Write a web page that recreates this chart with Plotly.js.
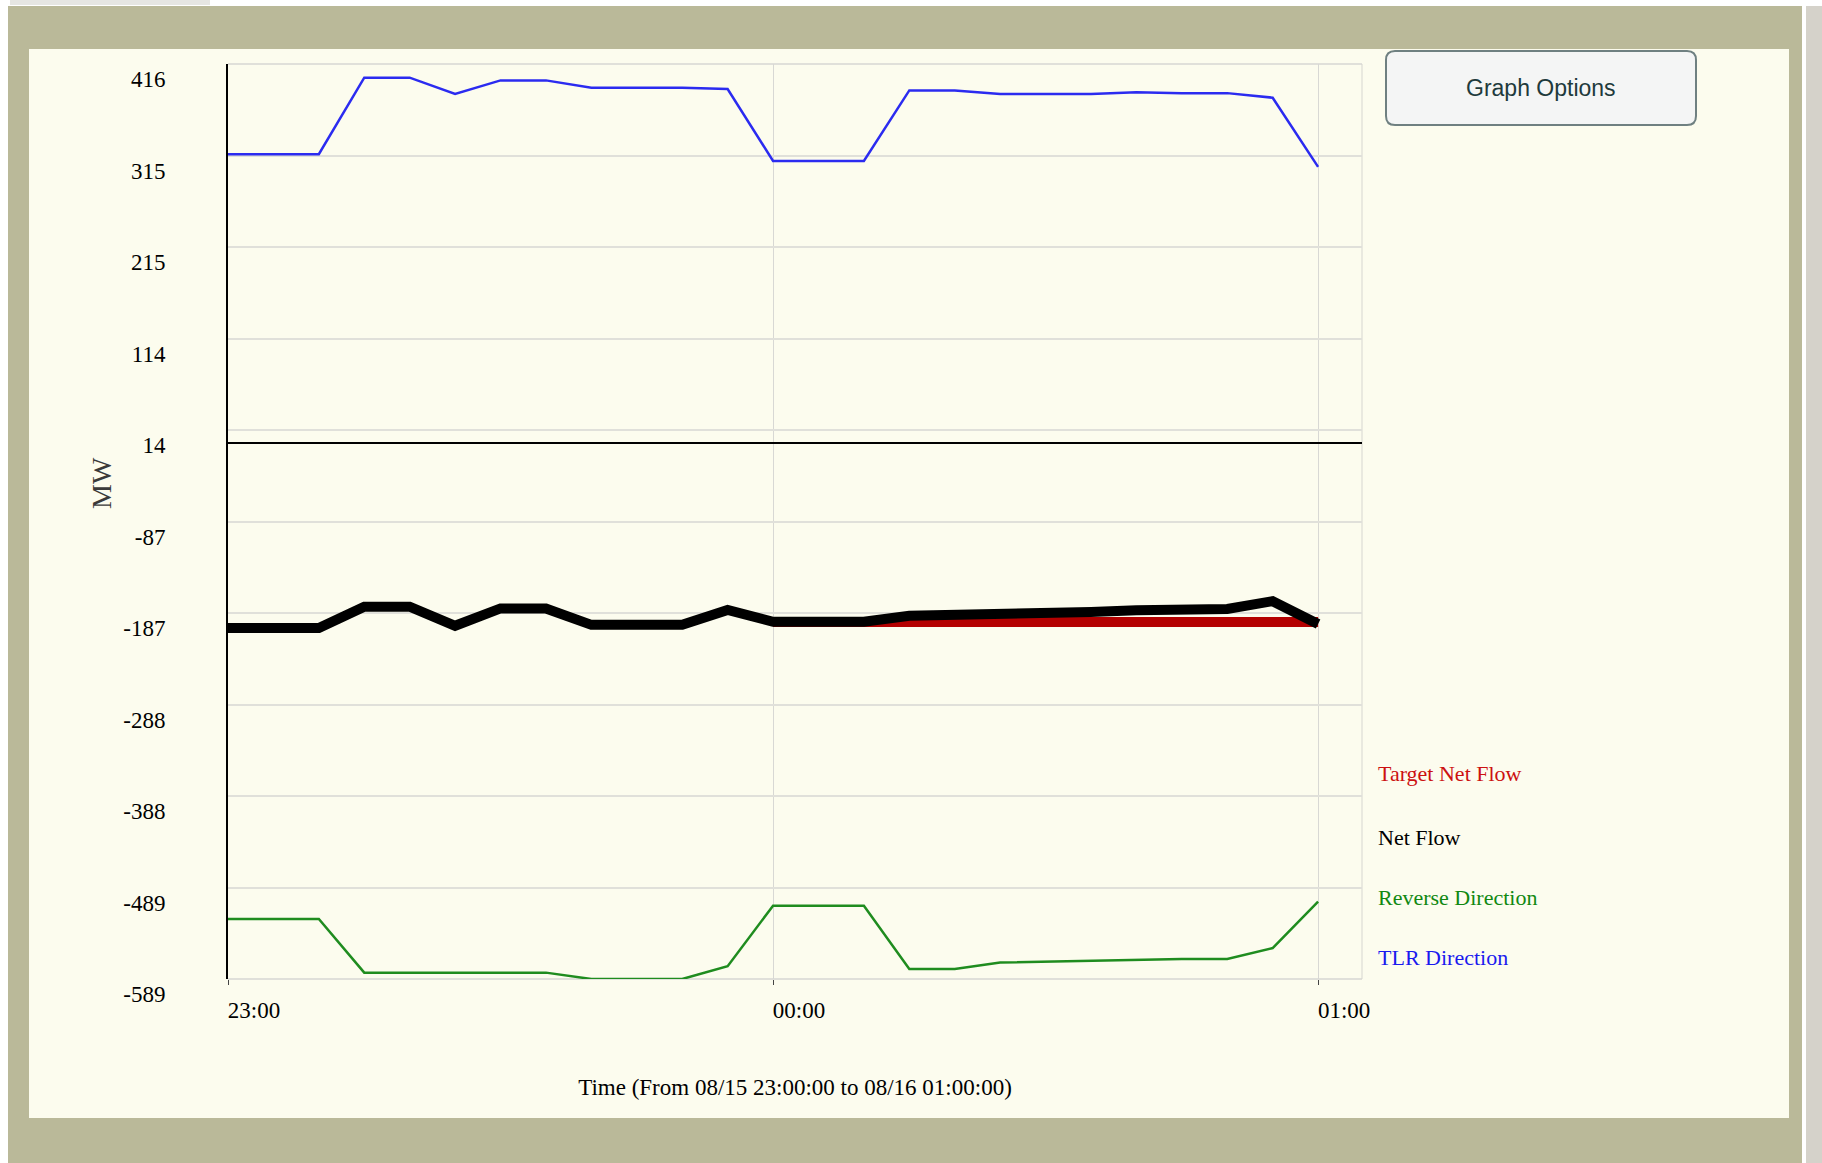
<!DOCTYPE html>
<html>
<head>
<meta charset="utf-8">
<script src="https://cdn.plot.ly/plotly-3.0.1.min.js"></script>
<style>
html, body { margin: 0; padding: 0; background: #ffffff; }
#chart { width: 1822px; height: 1163px; }
</style>
</head>
<body>
<div id="chart"></div>
<script>
// ---------- data ----------
const times = ['23:00','23:05','23:10','23:15','23:20','23:25','23:30','23:35','23:40','23:45','23:50','23:55',
               '00:00','00:05','00:10','00:15','00:20','00:25','00:30','00:35','00:40','00:45','00:50','00:55','01:00'];
const tlrDirection = [317, 317, 317, 401, 401, 383, 398, 398, 390, 390, 390, 388.5,
                      309.5, 309.5, 309.5, 387, 387, 383, 383, 383, 385, 384, 384, 379, 303];
const reverseDirection = [-523, -523, -523, -582, -582, -582, -582, -582, -589, -589, -589, -575,
                          -508.5, -508.5, -508.5, -578, -578, -571, -570, -569, -568, -567, -567, -555, -504];
const netFlow = [-203.5, -203.5, -203.5, -180, -180, -201, -182, -182, -200, -200, -200, -183.7,
                 -196.6, -196.6, -196.6, -190, -189.5, -188.5, -187, -186, -184, -182.5, -182.5, -174, -199];
const targetNetFlow = [null, null, null, null, null, null, null, null, null, null, null, null,
                       -197, -197, -197, -197, -197, -197, -197, -197, -197, -197, -197, -197, -197];
const yTickValues = [-589, -488.5, -388, -287.5, -187, -86.5, 14, 114.5, 215, 315.5, 416];
const yTickLabels = ['-589', '-489', '-388', '-288', '-187', '-87', '14', '114', '215', '315', '416'];
const xTickTimes = ['23:00', '00:00', '01:00'];
const seriesNames = ['Target Net Flow', 'Net Flow', 'Reverse Direction', 'TLR Direction'];
const xTitle = 'Time (From 08/15 23:00:00 to 08/16 01:00:00)';
const yTitle = 'MW';
const buttonLabel = 'Graph Options';

// times after midnight belong to 08/16
function toDate(t) {
  const h = parseInt(t.slice(0, 2), 10);
  return (h >= 12 ? '2010-08-15 ' : '2010-08-16 ') + t + ':00';
}
const xs = times.map(toDate);

// ---------- geometry helpers (pixel -> paper) ----------
const L = 228, R = 1362, T = 64, B = 979;
const px = x => (x - L) / (R - L);
const py = y => (B - y) / (B - T);

function rect(x0, y0, x1, y1, fill, line) {
  return { type: 'rect', xref: 'paper', yref: 'paper', layer: 'below',
           x0: px(x0), x1: px(x1), y0: py(y1), y1: py(y0),
           fillcolor: fill, line: line || { width: 0 } };
}
function roundRect(x0, y0, x1, y1, r) {
  const p = (x, y) => px(x) + ',' + py(y);
  return 'M' + p(x0 + r, y0) + ' L' + p(x1 - r, y0) + ' Q' + p(x1, y0) + ' ' + p(x1, y0 + r) +
         ' L' + p(x1, y1 - r) + ' Q' + p(x1, y1) + ' ' + p(x1 - r, y1) +
         ' L' + p(x0 + r, y1) + ' Q' + p(x0, y1) + ' ' + p(x0, y1 - r) +
         ' L' + p(x0, y0 + r) + ' Q' + p(x0, y0) + ' ' + p(x0 + r, y0) + ' Z';
}

const serif = '"Liberation Serif", "Times New Roman", Times, serif';
const gridColor = '#e0e0da';

const traces = [
  { x: xs, y: tlrDirection, name: seriesNames[3], mode: 'lines',
    line: { color: '#2b2bf0', width: 2.5 }, hoverinfo: 'x+y+name' },
  { x: xs, y: reverseDirection, name: seriesNames[2], mode: 'lines',
    line: { color: '#1f8c1f', width: 2.5 }, hoverinfo: 'x+y+name' },
  { x: xs, y: targetNetFlow, name: seriesNames[0], mode: 'lines',
    line: { color: '#b40000', width: 10 }, hoverinfo: 'x+y+name' },
  { x: xs, y: netFlow, name: seriesNames[1], mode: 'lines',
    line: { color: '#000000', width: 10 }, hoverinfo: 'x+y+name' }
];

const legendColors = ['#cc1111', '#000000', '#118811', '#1a1aee'];
const legendY = [773, 837, 897, 957];

const annotations = seriesNames.map((n, i) => ({
  text: n, xref: 'paper', yref: 'paper', x: px(1376), y: py(legendY[i]),
  xanchor: 'left', yanchor: 'middle', showarrow: false,
  font: { family: serif, size: 22, color: legendColors[i] }
}));
annotations.push({
  text: yTitle, xref: 'paper', yref: 'paper', x: px(101), y: py(483),
  xanchor: 'center', yanchor: 'middle', textangle: -90, showarrow: false,
  font: { family: serif, size: 28, color: '#3a3a3a' }
});
annotations.push({
  text: buttonLabel, xref: 'paper', yref: 'paper', x: px(1541), y: py(88),
  xanchor: 'center', yanchor: 'middle', showarrow: false,
  font: { family: '"Liberation Sans", "DejaVu Sans", sans-serif', size: 23, color: '#1e3a3c' }
});

const shapes = [
  rect(8, 6, 1802, 1163, '#bab999'),
  rect(1806, 6, 1822, 1163, '#d5d2ca'),
  rect(10, 0, 210, 5, '#e6e6e3'),
  rect(29, 49, 1789, 1118, '#fcfcee'),
  { type: 'line', xref: 'paper', yref: 'paper', x0: 0, x1: 1, y0: 1, y1: 1,
    line: { color: gridColor, width: 2 }, layer: 'below' },
  { type: 'line', xref: 'paper', yref: 'paper', x0: 0, x1: 1, y0: 0, y1: 0,
    line: { color: gridColor, width: 2 }, layer: 'below' },
  { type: 'line', xref: 'paper', yref: 'paper', x0: 1, x1: 1, y0: 0, y1: 1,
    line: { color: '#d6d6d0', width: 1 }, layer: 'below' },
  { type: 'path', xref: 'paper', yref: 'paper', layer: 'above',
    path: roundRect(1386, 51, 1696, 125, 9),
    fillcolor: '#f4f5f5', line: { color: '#6f8081', width: 2 } }
];

const layout = {
  width: 1822, height: 1163,
  margin: { l: 228, r: 460, t: 64, b: 184, pad: 0 },
  paper_bgcolor: '#ffffff',
  plot_bgcolor: 'rgba(0,0,0,0)',
  showlegend: false,
  font: { family: serif, size: 23, color: '#000000' },
  xaxis: {
    type: 'date',
    range: [toDate('23:00'), '2010-08-16 01:04:50'],
    tickvals: xTickTimes.map(toDate), ticktext: xTickTimes,
    showgrid: true, gridcolor: '#d8d8d4', gridwidth: 1,
    zeroline: false, showline: false,
    ticks: 'outside', ticklen: 5, tickwidth: 1, tickcolor: '#444444',
    ticklabelshift: 26, ticklabelstandoff: 5,
    tickfont: { family: serif, size: 23, color: '#000000' },
    title: { text: xTitle, standoff: 57, font: { family: serif, size: 23, color: '#000000' } },
    automargin: false, fixedrange: true
  },
  yaxis: {
    range: [-589, 416],
    tickvals: yTickValues, ticktext: yTickLabels,
    showgrid: true, gridcolor: gridColor, gridwidth: 2,
    zeroline: true, zerolinecolor: '#000000', zerolinewidth: 2,
    showline: true, linecolor: '#000000', linewidth: 2,
    ticks: '', ticklabelstandoff: 56, ticklabelshift: 15,
    tickfont: { family: serif, size: 23, color: '#000000' },
    automargin: false, fixedrange: true
  },
  shapes: shapes,
  annotations: annotations
};

Plotly.newPlot('chart', traces, layout, { displayModeBar: false, staticPlot: false });
</script>
</body>
</html>
